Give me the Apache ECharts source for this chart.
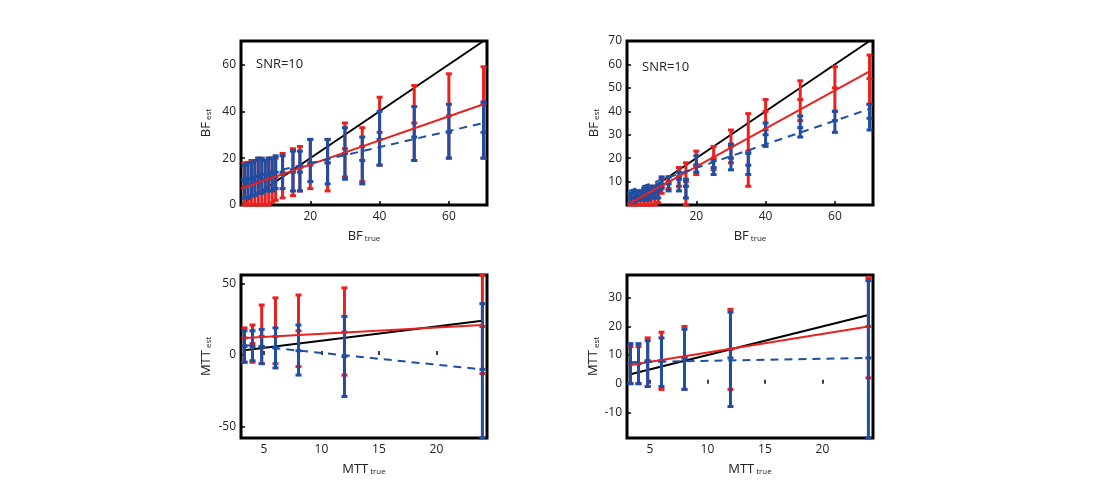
<!DOCTYPE html>
<html>
<head>
<meta charset="utf-8">
<script src="https://cdn.jsdelivr.net/npm/echarts@6/dist/echarts.min.js"></script>
<style>html,body{margin:0;background:#fff}#c{width:1100px;height:500px}</style>
</head>
<body>
<div id="c"></div>
<script>
// BF panels: true values
const bfTrue = [1, 2, 3, 4, 5, 6, 7, 8, 9, 10, 12, 15, 17, 20, 25, 30, 35, 40, 50, 60, 70];
// [mean, low, high]
const bf1Red = [[8,0,18],[9,0,18],[9,0,19],[10,0,19],[10,0,20],[11,0,19],[11,0,19],[11,0,20],[12,1,20],[12,2,20],[13,3,22],[14,4,24],[16,6,25],[17,7,28],[18,6,28],[24,12,35],[25,10,33],[31,17,46],[35,19,51],[38,20,56],[43,20,59]];
const bf1Blue = [[10,3,17],[11,3,18],[11,4,18],[12,4,19],[12,5,20],[13,5,20],[13,6,19],[13,6,20],[14,6,20],[14,7,21],[14,7,21],[15,6,23],[14,6,23],[18,10,28],[18,9,28],[22,11,33],[19,9,29],[28,17,40],[29,19,42],[31,20,43],[31,20,44]];
const bf2Red = [[1,0,5],[2,0,5],[2,0,6],[3,0,6],[3,0,7],[3,0,7],[4,0,8],[4,0,8],[5,1,8],[8,5,11],[10,7,12],[12,8,16],[10,0,18],[17,13,23],[20,15,25],[25,18,32],[23,8,39],[40,32,45],[45,36,53],[50,40,59],[54,43,64]];
const bf2Blue = [[3,1,5],[3,1,6],[4,2,6],[4,2,6],[5,2,7],[5,2,8],[5,3,8],[6,3,8],[6,3,9],[9,7,12],[9,6,12],[11,6,14],[8,3,11],[17,14,21],[16,13,19],[20,15,26],[17,13,22],[30,25,35],[33,29,38],[36,31,40],[37,32,43]];
const bf1RedFit = [[0, 7], [70, 43]];
const bf1BlueFit = [[0, 11], [70, 35]];
const bf2RedFit = [[0.5, 0.5], [70, 57]];
const bf2BlueFit = [[0.5, 6], [70, 41]];
const bfIdentity = [[0, 0], [70, 70]];

// MTT panels
const mttTrue = [3.3, 4, 4.8, 6, 8, 12, 24];
const mtt1Red = [[12,-5,19],[8,-5,21],[13,-6,35],[13,-6,40],[17,-8,42],[16,-14,47],[20,-13,56]];
const mtt1Blue = [[6,-5,17],[6,-4,17],[6,-6,18],[5,-9,19],[3,-14,21],[-1,-29,27],[-10,-58,36]];
const mtt2Red = [[7,0,13],[7,0,13],[8,-1,16],[8,-2,18],[9,-2,20],[12,-2,26],[20,2,37]];
const mtt2Blue = [[7,0,14],[7,0,14],[8,-1,15],[8,-1,16],[9,-2,19],[9,-8,25],[9,-19,36]];
const mtt1RedFit = [[3.3, 12], [24, 21]];
const mtt1BlueFit = [[3.3, 7], [24, -10]];
const mtt2RedFit = [[3.3, 6.5], [24, 20]];
const mtt2BlueFit = [[3.3, 7.5], [24, 9]];
const mttIdentity = [[3.3, 3.3], [24, 24]];

const RED = '#e8221e', BLUE = '#1f4ea3';
const FONT = 'Open Sans';

const chart = echarts.init(document.getElementById('c'));

const grids = [
  { left: 241, top: 41, width: 246, height: 164 },
  { left: 627, top: 41, width: 246, height: 164 },
  { left: 241, top: 275, width: 246, height: 163 },
  { left: 627, top: 275, width: 246, height: 163 }
].map(g => ({ ...g, show: true, borderColor: '#000', borderWidth: 3, backgroundColor: 'transparent' }));

const nameRich = {
  a: { fontSize: 13, fontFamily: FONT, color: '#222' },
  b: { fontSize: 8, fontFamily: FONT, color: '#222', padding: [6, 0, 0, 2] }
};

function xAxis(i, min, max, ticks, name) {
  return {
    gridIndex: i, type: 'value', min, max,
    name: `{a|${name}}{b|true}`, nameLocation: 'middle', nameGap: 24,
    nameTextStyle: { rich: nameRich },
    axisLine: { show: false }, splitLine: { show: false },
    axisTick: { inside: true, length: 4, customValues: ticks, lineStyle: { color: '#000', width: 1.5 } },
    axisLabel: { customValues: ticks, fontSize: 12, fontFamily: FONT, color: '#222', margin: 6 }
  };
}
function yAxis(i, min, max, ticks, name) {
  return {
    gridIndex: i, type: 'value', min, max,
    name: `{a|${name}}{b|est}`, nameLocation: 'middle', nameGap: i % 2 ? 26 : 28,
    nameTextStyle: { rich: nameRich },
    axisLine: { show: false }, splitLine: { show: false },
    axisTick: { inside: true, length: 4, customValues: ticks, lineStyle: { color: '#000', width: 1.5 } },
    axisLabel: { customValues: ticks, fontSize: 12, fontFamily: FONT, color: '#222', margin: 5 }
  };
}

function errSeries(i, xs, vals, color) {
  return {
    type: 'custom', xAxisIndex: i, yAxisIndex: i, z: color === BLUE ? 4 : 3,
    data: xs.map((x, k) => [x, vals[k][0], vals[k][1], vals[k][2]]),
    renderItem: (params, api) => {
      const x = api.value(0);
      const m = api.coord([x, api.value(1)]);
      const lo = api.coord([x, api.value(2)]);
      const hi = api.coord([x, api.value(3)]);
      const w = 3;
      const st = { stroke: color, lineWidth: 3 };
      return {
        type: 'group', children: [
          { type: 'line', shape: { x1: lo[0], y1: lo[1], x2: hi[0], y2: hi[1] }, style: st },
          { type: 'line', shape: { x1: lo[0] - w, y1: lo[1], x2: lo[0] + w, y2: lo[1] }, style: st },
          { type: 'line', shape: { x1: hi[0] - w, y1: hi[1], x2: hi[0] + w, y2: hi[1] }, style: st },
          { type: 'line', shape: { x1: m[0] - w, y1: m[1], x2: m[0] + w, y2: m[1] }, style: st }
        ]
      };
    }
  };
}
function lineSeries(i, data, color, dashed, z) {
  return {
    type: 'line', xAxisIndex: i, yAxisIndex: i, data, symbol: 'none', z,
    lineStyle: { color, width: 2, type: dashed ? [8, 6] : 'solid' }
  };
}

const bfX = [20, 40, 60];
const mttX = [5, 10, 15, 20];

chart.setOption({
  animation: false,
  grid: grids,
  xAxis: [
    xAxis(0, 0, 71, bfX, 'BF'),
    xAxis(1, 0, 71, bfX, 'BF'),
    xAxis(2, 3, 24.4, mttX, 'MTT'),
    xAxis(3, 3, 24.4, mttX, 'MTT')
  ],
  yAxis: [
    yAxis(0, 0, 70, [0, 20, 40, 60], 'BF'),
    yAxis(1, 0, 70, [10, 20, 30, 40, 50, 60, 70], 'BF'),
    yAxis(2, -58, 56, [-50, 0, 50], 'MTT'),
    yAxis(3, -19, 38, [-10, 0, 10, 20, 30], 'MTT')
  ],
  graphic: [
    { type: 'text', left: 256, top: 58, style: { text: 'SNR=10', fontSize: 13, fontFamily: FONT, fill: '#222' } },
    { type: 'text', left: 642, top: 61, style: { text: 'SNR=10', fontSize: 13, fontFamily: FONT, fill: '#222' } }
  ],
  series: [
    lineSeries(0, bfIdentity, '#000', false, 2),
    errSeries(0, bfTrue, bf1Red, RED),
    errSeries(0, bfTrue, bf1Blue, BLUE),
    lineSeries(0, bf1RedFit, RED, false, 5),
    lineSeries(0, bf1BlueFit, BLUE, true, 5),

    lineSeries(1, bfIdentity, '#000', false, 2),
    errSeries(1, bfTrue, bf2Red, RED),
    errSeries(1, bfTrue, bf2Blue, BLUE),
    lineSeries(1, bf2RedFit, RED, false, 5),
    lineSeries(1, bf2BlueFit, BLUE, true, 5),

    lineSeries(2, mttIdentity, '#000', false, 2),
    errSeries(2, mttTrue, mtt1Red, RED),
    errSeries(2, mttTrue, mtt1Blue, BLUE),
    lineSeries(2, mtt1RedFit, RED, false, 5),
    lineSeries(2, mtt1BlueFit, BLUE, true, 5),

    lineSeries(3, mttIdentity, '#000', false, 2),
    errSeries(3, mttTrue, mtt2Red, RED),
    errSeries(3, mttTrue, mtt2Blue, BLUE),
    lineSeries(3, mtt2RedFit, RED, false, 5),
    lineSeries(3, mtt2BlueFit, BLUE, true, 5)
  ]
});
</script>
</body>
</html>
